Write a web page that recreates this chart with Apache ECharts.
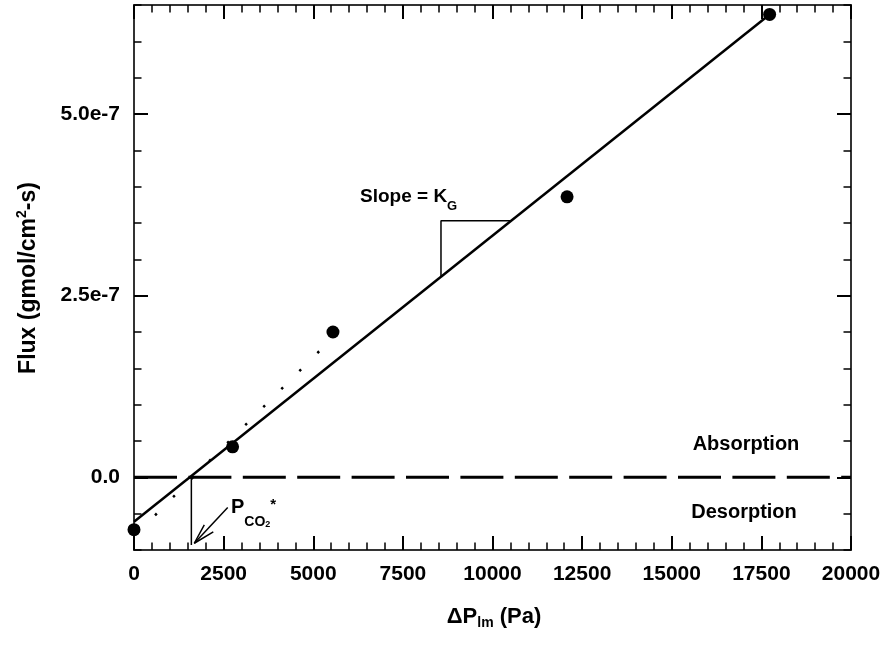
<!DOCTYPE html>
<html>
<head>
<meta charset="utf-8">
<script src="https://cdn.jsdelivr.net/npm/echarts@6/dist/echarts.min.js"></script>
<style>html,body{margin:0;padding:0;background:#fff;}#c{width:887px;height:649px;}</style>
</head>
<body>
<div id="c"></div>
<script>
// ---- data ----
const pointX = [0, 2750, 5550, 12080, 17730];
const pointY = [-7.2e-8, 4.2e-8, 2.0e-7, 3.86e-7, 6.37e-7];
const fitX = [0, 17730];
const fitY = [-6.1e-8, 6.37e-7];
const dotX = [84, 5580];
const dotY = [-7.7e-8, 1.94e-7];
const zeroX = [0, 20000];
const zeroY = [0, 0];
const slopeX = [8563, 8563, 10516];
const slopeY = [2.761e-7, 3.53e-7, 3.53e-7];
const pcoX = [1600, 1600];
const pcoY = [0, -9.3e-8];
const arrowX = [2614, 1682];
const arrowY = [-4.16e-8, -9.07e-8];
const headX = [1961, 1682, 2212];
const headY = [-6.55e-8, -9.07e-8, -7.51e-8];
const xTickLabels = ['0','2500','5000','7500','10000','12500','15000','17500','20000'];
const yTickValues = [0, 2.5e-7, 5e-7];
const yTickLabels = ['0.0', '2.5e-7', '5.0e-7'];

const zip = (xs, ys) => xs.map((x, i) => [x, ys[i]]);
const FONT = '"Liberation Sans", Arial, sans-serif';
const ctx = document.createElement('canvas').getContext('2d');
function tw(t, size) { ctx.font = 'bold ' + size + 'px ' + FONT; return ctx.measureText(t).width; }

function run(pieces, x, y, align, rotation) {
  const total = pieces.reduce((s, p) => s + tw(p[0], p[1]), 0);
  let cx = align === 'center' ? -total / 2 : 0;
  const children = pieces.map(p => {
    const el = {
      type: 'text', x: cx, y: p[2],
      style: { text: p[0], font: 'bold ' + p[1] + 'px ' + FONT, fill: '#000', textAlign: 'left', textVerticalAlign: 'middle', verticalAlign: 'middle' }
    };
    cx += tw(p[0], p[1]);
    return el;
  });
  return { type: 'group', x: x, y: y, rotation: rotation || 0, children: children, silent: true };
}

function lineSeries(data, width, type) {
  return {
    type: 'line', data: data, symbol: 'none', showSymbol: false, silent: true,
    lineStyle: { color: '#000', width: width, type: type || 'solid', cap: 'butt', opacity: 1 },
    animation: false, z: 3
  };
}

const axisLineStyle = { show: true, onZero: false, lineStyle: { color: '#333', width: 2 } };
function xAx(pos, showLabel) {
  return {
    type: 'value', position: pos, min: 0, max: 20000, interval: 2500,
    axisLine: axisLineStyle,
    axisTick: { show: true, inside: true, length: 14, lineStyle: { color: '#000', width: 2 } },
    minorTick: { show: true, splitNumber: 5, length: 7.5, lineStyle: { color: '#000', width: 1.5 } },
    splitLine: { show: false }, minorSplitLine: { show: false },
    axisLabel: {
      show: showLabel, margin: 14, color: '#000', fontSize: 21, fontWeight: 'bold', fontFamily: FONT,
      formatter: v => xTickLabels[Math.round(v / 2500)]
    }
  };
}
function yMajor(pos, showLabel) {
  return {
    type: 'value', position: pos, offset: 0, min: -1e-7, max: 6.5e-7,
    axisLine: axisLineStyle,
    axisTick: { show: true, inside: true, length: 14, customValues: yTickValues, lineStyle: { color: '#000', width: 2 } },
    splitLine: { show: false },
    axisLabel: {
      show: showLabel, customValues: yTickValues, margin: 14, color: '#000', fontSize: 21, fontWeight: 'bold', fontFamily: FONT,
      formatter: v => { let best = 0; yTickValues.forEach((t, i) => { if (Math.abs(t - v) < Math.abs(yTickValues[best] - v)) best = i; }); return yTickLabels[best]; }
    }
  };
}
function yMinor(pos) {
  return {
    type: 'value', position: pos, offset: 0, min: -1e-7, max: 6.5e-7, interval: 5e-8,
    axisLine: { show: false, onZero: false },
    axisTick: { show: true, inside: true, length: 7.5, lineStyle: { color: '#000', width: 1.5 } },
    splitLine: { show: false }, axisLabel: { show: false }
  };
}

const chart = echarts.init(document.getElementById('c'), null, { renderer: 'canvas' });
chart.setOption({
  animation: false,
  backgroundColor: '#fff',
  grid: { left: 134, right: 36, top: 5, bottom: 99, containLabel: false },
  xAxis: [xAx('bottom', true), xAx('top', false)],
  yAxis: [yMajor('left', true), yMinor('left'), yMajor('right', false), yMinor('right')],
  series: [
    lineSeries(zip(zeroX, zeroY), 3, [43, 11.4]),
    lineSeries(zip(dotX, dotY), 2.5, [2.5, 23]),
    lineSeries(zip(fitX, fitY), 2.5),
    lineSeries(zip(slopeX, slopeY), 1.5),
    lineSeries(zip(pcoX, pcoY), 1.5),
    lineSeries(zip(arrowX, arrowY), 1.5),
    lineSeries(zip(headX, headY), 1.5),
    {
      type: 'scatter', data: zip(pointX, pointY), symbol: 'circle', symbolSize: 13,
      itemStyle: { color: '#000', opacity: 1 }, silent: true, z: 5
    }
  ],
  graphic: [
    run([['Slope = K', 19, 0], ['G', 13, 9.5]], 360, 196.7, 'left'),
    run([['P', 20, 0], ['CO', 14, 15], ['2', 9, 17.5], ['*', 15, -2.5]], 231, 507.5, 'left'),
    run([['Absorption', 20, 0]], 746, 444.5, 'center'),
    run([['Desorption', 20, 0]], 744, 512, 'center'),
    run([['\u0394P', 22, 0], ['lm', 14, 6], [' (Pa)', 22, 0]], 494, 617, 'center'),
    run([['Flux (gmol/cm', 23, 0], ['2', 14, -6.5], ['-s)', 23, 0]], 29, 278, 'center', Math.PI / 2)
  ]
});
</script>
</body>
</html>
